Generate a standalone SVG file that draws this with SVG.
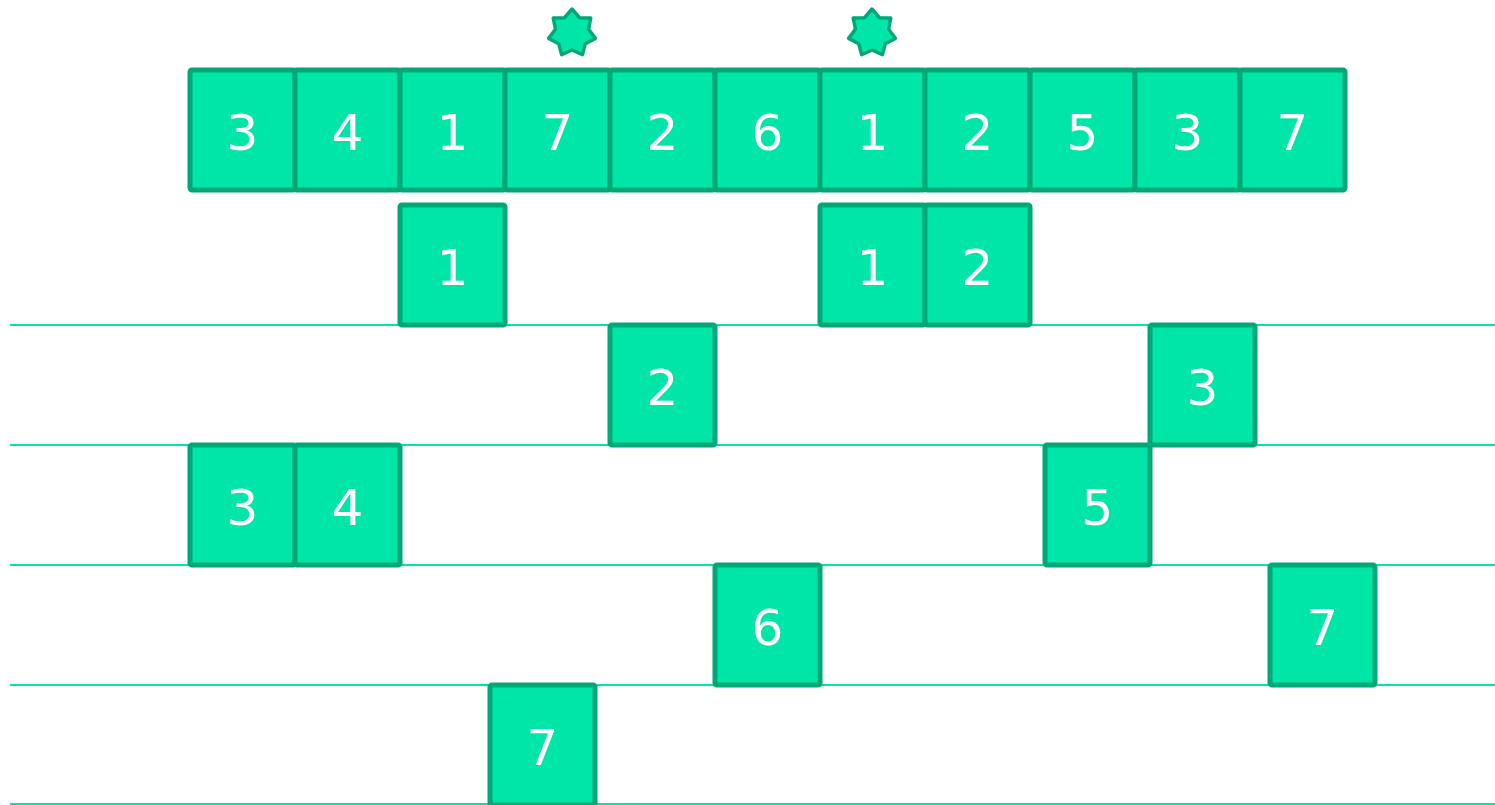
<svg xmlns="http://www.w3.org/2000/svg" width="1495" height="805" viewBox="0 0 1495 805">
<style>
.ln{stroke:#00E5A8;stroke-width:2;fill:none}
.c{fill:#00E5A8;stroke:#00A877;stroke-width:5}
.t{font-family:"DejaVu Sans","Liberation Sans",sans-serif;font-size:50px;fill:#ffffff;text-anchor:middle}
.st{fill:#00E5A8;stroke:#00A877;stroke-width:3.5;stroke-linejoin:round}
</style>
<defs>
<path id="star" d="M0,-24 L7.38,-15.32 L18.76,-14.96 L16.58,-3.78 L23.4,5.34 L13.29,10.6 L10.41,21.62 L0,17 L-10.41,21.62 L-13.29,10.6 L-23.4,5.34 L-16.58,-3.78 L-18.76,-14.96 L-7.38,-15.32 Z"/>
</defs>
<g id="lines" class="ln">
<line x1="10" y1="325" x2="1495" y2="325"/>
<line x1="10" y1="445" x2="1495" y2="445"/>
<line x1="10" y1="565" x2="1495" y2="565"/>
<line x1="10" y1="685" x2="1495" y2="685"/>
<line x1="10" y1="804" x2="1495" y2="804"/>
</g>
<g id="stars">
<use href="#star" class="st" x="572" y="33"/>
<use href="#star" class="st" x="872" y="33"/>
</g>
<g id="top-row">
<rect class="c" x="190" y="70" width="105" height="120" rx="2"/><text class="t" x="242.5" y="150">3</text>
<rect class="c" x="295" y="70" width="105" height="120" rx="2"/><text class="t" x="347.5" y="150">4</text>
<rect class="c" x="400" y="70" width="105" height="120" rx="2"/><text class="t" x="452.5" y="150">1</text>
<rect class="c" x="505" y="70" width="105" height="120" rx="2"/><text class="t" x="557.5" y="150">7</text>
<rect class="c" x="610" y="70" width="105" height="120" rx="2"/><text class="t" x="662.5" y="150">2</text>
<rect class="c" x="715" y="70" width="105" height="120" rx="2"/><text class="t" x="767.5" y="150">6</text>
<rect class="c" x="820" y="70" width="105" height="120" rx="2"/><text class="t" x="872.5" y="150">1</text>
<rect class="c" x="925" y="70" width="105" height="120" rx="2"/><text class="t" x="977.5" y="150">2</text>
<rect class="c" x="1030" y="70" width="105" height="120" rx="2"/><text class="t" x="1082.5" y="150">5</text>
<rect class="c" x="1135" y="70" width="105" height="120" rx="2"/><text class="t" x="1187.5" y="150">3</text>
<rect class="c" x="1240" y="70" width="105" height="120" rx="2"/><text class="t" x="1292.5" y="150">7</text>
</g>
<g id="row1">
<rect class="c" x="400" y="205" width="105" height="120" rx="2"/><text class="t" x="452.5" y="285">1</text>
<rect class="c" x="820" y="205" width="105" height="120" rx="2"/><text class="t" x="872.5" y="285">1</text>
<rect class="c" x="925" y="205" width="105" height="120" rx="2"/><text class="t" x="977.5" y="285">2</text>
</g>
<g id="row2">
<rect class="c" x="610" y="325" width="105" height="120" rx="2"/><text class="t" x="662.5" y="405">2</text>
<rect class="c" x="1150" y="325" width="105" height="120" rx="2"/><text class="t" x="1202.5" y="405">3</text>
</g>
<g id="row3">
<rect class="c" x="190" y="445" width="105" height="120" rx="2"/><text class="t" x="242.5" y="525">3</text>
<rect class="c" x="295" y="445" width="105" height="120" rx="2"/><text class="t" x="347.5" y="525">4</text>
<rect class="c" x="1045" y="445" width="105" height="120" rx="2"/><text class="t" x="1097.5" y="525">5</text>
</g>
<g id="row4">
<rect class="c" x="715" y="565" width="105" height="120" rx="2"/><text class="t" x="767.5" y="645">6</text>
<rect class="c" x="1270" y="565" width="105" height="120" rx="2"/><text class="t" x="1322.5" y="645">7</text>
</g>
<g id="row5">
<rect class="c" x="490" y="685" width="105" height="120" rx="2"/><text class="t" x="542.5" y="765">7</text>
</g>
</svg>
